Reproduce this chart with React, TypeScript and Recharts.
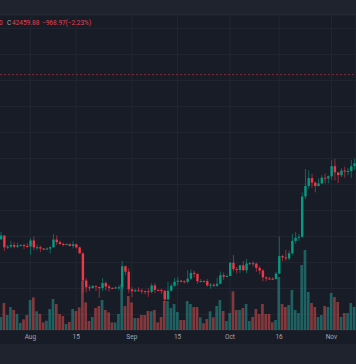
import { ComposedChart, Bar, XAxis, YAxis, CartesianGrid, ReferenceLine, Cell } from 'recharts';

const UP = '#089981';
const DOWN = '#f23645';
const VOL_UP = '#26a69a';
const VOL_DOWN = '#ef5350';

const dates = [
  '07-22', '07-23', '07-24', '07-25', '07-26', '07-27', '07-28', '07-29', '07-30', '07-31',
  '08-01', '08-02', '08-03', '08-04', '08-05', '08-06', '08-07', '08-08', '08-09', '08-10',
  '08-11', '08-12', '08-13', '08-14', '08-15', '08-16', '08-17', '08-18', '08-19', '08-20',
  '08-21', '08-22', '08-23', '08-24', '08-25', '08-26', '08-27', '08-28', '08-29', '08-30',
  '08-31', '09-01', '09-02', '09-03', '09-04', '09-05', '09-06', '09-07', '09-08', '09-09',
  '09-10', '09-11', '09-12', '09-13', '09-14', '09-15', '09-16', '09-17', '09-18', '09-19',
  '09-20', '09-21', '09-22', '09-23', '09-24', '09-25', '09-26', '09-27', '09-28', '09-29',
  '09-30', '10-01', '10-02', '10-03', '10-04', '10-05', '10-06', '10-07', '10-08', '10-09',
  '10-10', '10-11', '10-12', '10-13', '10-14', '10-15', '10-16', '10-17', '10-18', '10-19',
  '10-20', '10-21', '10-22', '10-23', '10-24', '10-25', '10-26', '10-27', '10-28', '10-29',
  '10-30', '10-31', '11-01', '11-02', '11-03', '11-04', '11-05', '11-06', '11-07', '11-08',
];

const open = [
  29900, 29800, 30080, 29180, 29230, 29350, 29220, 29320, 29350, 29280,
  29230, 29700, 29170, 29180, 29080, 29050, 29080, 29180, 29770, 29570,
  29430, 29400, 29420, 29280, 29410, 29170, 28700, 26620, 26100, 26050,
  26190, 26120, 26040, 26430, 26160, 26050, 26010, 26090, 26100, 27720,
  27300, 25940, 25800, 25870, 25850, 25810, 25790, 25750, 26240, 25900,
  25890, 25830, 25160, 25840, 26220, 26530, 26610, 26570, 26530, 26760,
  27210, 27130, 26570, 26580, 26570, 26250, 26300, 26220, 26370, 27030,
  26910, 26970, 27990, 27500, 27430, 27790, 27410, 27930, 27950, 27920,
  27590, 27390, 26870, 26780, 26760, 26740, 27150, 28500, 28400, 28320,
  28710, 29670, 29910, 29990, 33080, 33900, 34500, 34150, 33890, 34090,
  34530, 34480, 34640, 35420, 34940, 34730, 35080, 35040, 35050, 35420,
];

const high = [
  30000, 30350, 30100, 29350, 29650, 29550, 29530, 29400, 29450, 29500,
  29880, 30000, 29400, 29300, 29120, 29170, 29250, 30200, 30100, 29700,
  29550, 29480, 29480, 29650, 29450, 29230, 28800, 26820, 26260, 26280,
  26250, 26140, 26800, 26550, 26300, 26100, 26170, 26250, 28140, 27760,
  27570, 26130, 25980, 26100, 26000, 25850, 26020, 26420, 26420, 25930,
  26000, 25880, 26550, 26400, 26820, 26880, 26670, 26630, 27420, 27480,
  27380, 27160, 26740, 26630, 26730, 26430, 26390, 26830, 27310, 27230,
  27090, 28050, 28580, 27670, 27830, 28130, 28280, 28030, 28100, 27990,
  27730, 27480, 26940, 26900, 26860, 27290, 30000, 28610, 28980, 28920,
  30220, 30340, 30200, 33400, 35200, 35100, 34830, 34230, 34470, 34730,
  34860, 34700, 35900, 35980, 34940, 35260, 35380, 35280, 35890, 35990,
];

const low = [
  29650, 29750, 28900, 29050, 29100, 29100, 29130, 29260, 29050, 29130,
  28600, 28950, 28950, 28800, 28950, 28960, 28700, 29120, 29360, 29350,
  29250, 29360, 29250, 29100, 29080, 28700, 25700, 25700, 25800, 26000,
  25810, 25300, 25800, 25850, 25780, 25960, 25980, 25880, 25920, 27030,
  25660, 25340, 25720, 25780, 25600, 25560, 25370, 25630, 25650, 25800,
  25600, 24900, 25130, 25770, 26130, 26240, 26470, 26400, 26380, 26680,
  26860, 26380, 26480, 26500, 26140, 25990, 26100, 26120, 26340, 26670,
  26890, 26950, 27320, 27170, 27220, 27370, 27180, 27850, 27700, 27300,
  27110, 26560, 26560, 26680, 26700, 26700, 27130, 28110, 28150, 28180,
  28610, 29470, 29660, 29900, 32880, 33680, 33750, 33400, 33860, 34050,
  34090, 34090, 34350, 34320, 34120, 34580, 34530, 34730, 34520, 35120,
];

const close = [
  29800, 30080, 29180, 29230, 29350, 29220, 29320, 29350, 29280, 29230,
  29700, 29170, 29180, 29080, 29050, 29080, 29180, 29770, 29570, 29430,
  29400, 29420, 29280, 29410, 29170, 28710, 26620, 26100, 26050, 26190,
  26120, 26040, 26430, 26160, 26050, 26010, 26090, 26100, 27720, 27300,
  25940, 25800, 25870, 25850, 25810, 25790, 25750, 26240, 25900, 25890,
  25830, 25160, 25840, 26220, 26530, 26610, 26570, 26530, 26760, 27210,
  27130, 26570, 26580, 26570, 26250, 26300, 26220, 26370, 27030, 26910,
  26970, 27990, 27500, 27430, 27790, 27410, 27930, 27950, 27920, 27590,
  27390, 26870, 26780, 26760, 26740, 27150, 28500, 28400, 28320, 28710,
  29670, 29910, 29990, 33080, 33900, 34500, 34150, 33890, 34090, 34530,
  34480, 34640, 35420, 34940, 34730, 35080, 35040, 35050, 35420, 35640,
];

// volume, thousands
const volume = [
  12, 13, 27, 15, 23, 20, 16, 7, 10.6, 15,
  30, 32.6, 18.7, 16, 7.6, 9.3, 21, 31, 26, 16,
  14, 6, 8, 21, 19, 22.6, 49, 27.6, 9, 13,
  22, 24, 30, 20, 17.6, 7.6, 7.6, 16, 46, 24,
  34, 27.6, 12, 12, 15, 15, 19, 18.7, 20, 7.6,
  13, 29, 29, 22, 26, 18, 10, 10, 29, 26,
  23, 23, 12.7, 6.7, 11, 18.7, 12.7, 24, 30, 19,
  9, 17, 38.7, 20, 20, 22, 26, 9, 13, 21,
  16, 26, 16, 16, 7.7, 10, 53, 26, 23, 25,
  40, 20, 17, 65, 80, 38, 27, 23, 13, 15,
  24, 23, 37, 33, 28, 13, 17, 17, 27, 23,
];

const tickDates = ['08-01', '08-15', '09-01', '09-15', '10-01', '10-16', '11-01'];
const tickLabels = ['Aug', '15', 'Sep', '15', 'Oct', '16', 'Nov'];
const priceTicks = [24000, 26000, 28000, 30000, 32000, 34000, 36000, 38000, 40000, 42000, 44000, 46000];
const lastPrice = 42459.88;

const data = dates.map((d, i) => ({
  date: d,
  open: open[i],
  high: high[i],
  low: low[i],
  close: close[i],
  volume: volume[i],
}));

const Candle = (props: any) => {
  const { x, y, width, height, payload } = props;
  const top = Math.min(y, y + height);
  const bot = Math.max(y, y + height);
  const span = payload.high - payload.low || 1;
  const py = (v: number) => top + ((payload.high - v) / span) * (bot - top);
  const up = payload.close >= payload.open;
  const color = up ? UP : DOWN;
  const cx = x + width / 2;
  const bTop = py(Math.max(payload.open, payload.close));
  const bH = Math.max(1, py(Math.min(payload.open, payload.close)) - bTop);
  return (
    <g>
      <line x1={cx} x2={cx} y1={top} y2={bot} stroke={color} strokeOpacity={0.6} strokeWidth={1} />
      <rect x={cx - 1.2} y={bTop} width={2.4} height={bH} fill={color} />
    </g>
  );
};

export default function App() {
  return (
    <div
      style={{
        position: 'fixed',
        left: 0,
        top: 0,
        width: 356,
        height: 364,
        overflow: 'hidden',
        background: '#181c27',
        fontFamily: 'Roboto, sans-serif',
      }}
    >
      <div style={{ position: 'absolute', left: 0, top: 0, width: 356, height: 14, background: '#1f232e', borderBottom: '1px solid #262a35' }} />
      <div style={{ position: 'absolute', left: 0, top: 344, width: 356, height: 20, background: '#1f232e' }} />
      <div style={{ position: 'absolute', left: -3.64, top: 15 }}>
        <ComposedChart width={360} height={329} data={data} margin={{ top: 0, right: 0, bottom: 0, left: 0 }}>
          <CartesianGrid xAxisId="main" yAxisId="price" stroke="#222632" />
          <XAxis
            xAxisId="main"
            dataKey="date"
            ticks={tickDates}
            interval={0}
            height={14}
            tickFormatter={(v) => tickLabels[tickDates.indexOf(v)] ?? ''}
            tick={{ fontSize: 6.5, fill: '#a3a6af' }}
            tickLine={false}
            axisLine={false}
            tickSize={0}
            tickMargin={4}
          />
          <XAxis xAxisId="vol" dataKey="date" hide />
          <YAxis yAxisId="price" domain={[22815, 47046]} ticks={priceTicks} hide />
          <YAxis yAxisId="vol" domain={[0, 315]} hide />
          <ReferenceLine
            xAxisId="main"
            yAxisId="price"
            y={lastPrice}
            stroke={DOWN}
            strokeOpacity={0.5}
            strokeDasharray="2 2"
          />
          <Bar xAxisId="vol" yAxisId="vol" dataKey="volume" barSize={2.7} isAnimationActive={false}>
            {data.map((d, i) => (
              <Cell key={i} fill={d.close >= d.open ? VOL_UP : VOL_DOWN} fillOpacity={0.5} />
            ))}
          </Bar>
          <Bar
            xAxisId="main"
            yAxisId="price"
            dataKey={(d: any) => [d.low, d.high]}
            shape={Candle}
            isAnimationActive={false}
          />
        </ComposedChart>
      </div>
      <div style={{ position: 'absolute', left: 0, top: 19, width: 200, height: 9, fontSize: 6.5, lineHeight: '9px', whiteSpace: 'nowrap' }}>
        <span style={{ position: 'absolute', top: 0, left: -1, color: '#e0434f' }}>0</span>
        <span style={{ position: 'absolute', top: 0, left: 7, color: '#a3a6af' }}>C</span>
        <span style={{ position: 'absolute', top: 0, left: 12, color: '#e0434f' }}>42459.88</span>
        <span style={{ position: 'absolute', top: 0, left: 42, color: '#e0434f' }}>−968.97</span>
        <span style={{ position: 'absolute', top: 0, left: 65.5, color: '#e0434f' }}>(−2.23%)</span>
      </div>
    </div>
  );
}
